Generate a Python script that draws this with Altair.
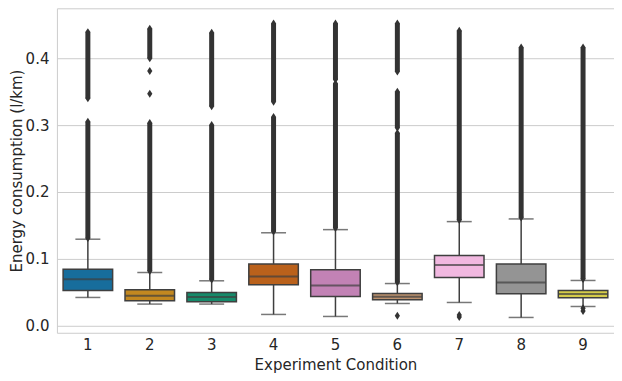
import altair as alt
import pandas as pd

conditions = ["1", "2", "3", "4", "5", "6", "7", "8", "9"]
whisker_low = [0.0423, 0.0324, 0.0324, 0.0169, 0.0139, 0.0333, 0.0348, 0.0124, 0.0288]
q1 = [0.0527, 0.0373, 0.0358, 0.0612, 0.0437, 0.0388, 0.0721, 0.0478, 0.0418]
median = [0.0697, 0.0448, 0.0428, 0.0736, 0.0601, 0.0433, 0.0910, 0.0646, 0.0473]
q3 = [0.0846, 0.0537, 0.0497, 0.0925, 0.0836, 0.0482, 0.1049, 0.0925, 0.0527]
whisker_high = [0.1294, 0.0796, 0.0672, 0.1390, 0.1437, 0.0631, 0.1557, 0.1597, 0.0677]
colors = ["#176d9c", "#c38820", "#168a6a", "#ba611b", "#c282b5",
          "#bd926e", "#f1b8e0", "#949494", "#d5cc4a"]

# dense runs of outliers (condition, low, high)
seg_cond = ["1", "1", "2", "2", "3", "3", "4", "4", "5", "5", "6", "6", "6", "7", "8", "9"]
seg_lo = [0.131, 0.340, 0.082, 0.400, 0.069, 0.328, 0.141, 0.335, 0.146, 0.368,
          0.065, 0.296, 0.380, 0.158, 0.162, 0.070]
seg_hi = [0.305, 0.439, 0.303, 0.444, 0.300, 0.438, 0.312, 0.452, 0.362, 0.452,
          0.288, 0.350, 0.452, 0.441, 0.416, 0.416]
# isolated outliers
pt_cond = ["2", "2", "6", "7", "7", "9", "9"]
pt_val = [0.381, 0.347, 0.015, 0.013, 0.016, 0.022, 0.026]

stats = pd.DataFrame({
    "cond": conditions, "lo": whisker_low, "q1": q1, "med": median,
    "q3": q3, "hi": whisker_high, "color": colors,
})
segs = pd.DataFrame({"cond": seg_cond, "lo": seg_lo, "hi": seg_hi})
pts = pd.DataFrame({
    "cond": pt_cond + seg_cond + seg_cond,
    "v": pt_val + seg_lo + seg_hi,
})

line = "#3f3f3f"
ydom = [-0.0105, 0.4746]

x = alt.X("cond:N", sort=conditions, title="Experiment Condition",
          scale=alt.Scale(paddingInner=0, paddingOuter=0),
          axis=alt.Axis(labelAngle=0, ticks=False, domain=False, grid=False,
                        labelPadding=5, titlePadding=5))
yscale = alt.Scale(domain=ydom, nice=False, zero=False)
yaxis = alt.Axis(values=[0, 0.1, 0.2, 0.3, 0.4], format=".1f", ticks=False,
                 domain=False, grid=True, gridColor="#cccccc", gridWidth=1,
                 labelPadding=8, titlePadding=1)

base = alt.Chart(stats)

whisk_lo = base.mark_rule(color=line, strokeWidth=1.5).encode(
    x=x, y=alt.Y("lo:Q", scale=yscale, axis=yaxis, title="Energy consumption (l/km)"),
    y2="q1:Q")
whisk_hi = base.mark_rule(color=line, strokeWidth=1.5).encode(
    x=x, y=alt.Y("q3:Q", scale=yscale), y2="hi:Q")
cap_lo = base.mark_tick(color=line, thickness=1.5, size=25).encode(
    x=x, y=alt.Y("lo:Q", scale=yscale))
cap_hi = base.mark_tick(color=line, thickness=1.5, size=25).encode(
    x=x, y=alt.Y("hi:Q", scale=yscale))
box = base.mark_bar(width=alt.RelativeBandSize(0.8), stroke=line, strokeWidth=1.5).encode(
    x=x, y=alt.Y("q1:Q", scale=yscale), y2="q3:Q",
    color=alt.Color("color:N", scale=None))
med = base.mark_tick(color=line, thickness=2, size=49).encode(
    x=x, y=alt.Y("med:Q", scale=yscale))

seg = alt.Chart(segs).mark_rule(color="#333333", strokeWidth=5).encode(
    x=x, y=alt.Y("lo:Q", scale=yscale), y2="hi:Q")
pt = alt.Chart(pts).mark_point(
    shape="M0,-1L0.65,0L0,1L-0.65,0Z", filled=True, color="#333333", size=64, opacity=1
).encode(x=x, y=alt.Y("v:Q", scale=yscale))

chart = alt.layer(whisk_lo, whisk_hi, cap_lo, cap_hi, seg, pt, box, med).properties(
    width=558, height=325,
    autosize=alt.AutoSizeParams(type="none"),
    padding={"left": 49, "top": 0, "right": 0, "bottom": 50},
    background="white",
).configure_view(stroke="#cccccc", strokeWidth=1).configure_axis(
    labelFont="DejaVu Sans", titleFont="DejaVu Sans", labelFontSize=15,
    titleFontSize=15, labelColor="#262626", titleColor="#262626",
    titleFontWeight="normal",
)

chart.save("out.html", embed_options={"renderer": "svg", "actions": False})
